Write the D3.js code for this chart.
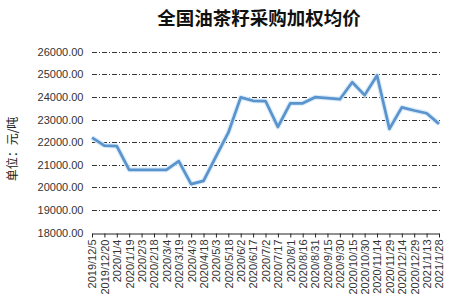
<!DOCTYPE html>
<html lang="zh">
<head>
<meta charset="UTF-8">
<title>全国油茶籽采购加权均价</title>
<script src="https://d3js.org/d3.v7.min.js"></script>
<style>
    body { margin: 0; background: #fff; }
    svg { display: block; }
    .tick-label { font-family: "Liberation Sans", Arial, sans-serif; font-size: 11px; fill: #333; }
</style>
</head>
<body>
<div id="chart"></div>
<script>
// 数据
const dates = ['2019/12/5', '2019/12/20', '2020/1/4', '2020/1/19', '2020/2/3', '2020/2/18', '2020/3/4',
    '2020/3/19', '2020/4/3', '2020/4/18', '2020/5/3', '2020/5/18', '2020/6/2', '2020/6/17', '2020/7/2',
    '2020/7/17', '2020/8/1', '2020/8/16', '2020/8/31', '2020/9/15', '2020/9/30', '2020/10/15', '2020/10/30',
    '2020/11/14', '2020/11/29', '2020/12/14', '2020/12/29', '2021/1/13', '2021/1/28'];
const prices = [22200, 21850, 21830, 20780, 20780, 20780, 20780,
    21160, 20150, 20290, 21360, 22420, 23980, 23830, 23820,
    22680, 23720, 23720, 23990, 23950, 23900, 24650, 24080,
    24950, 22590, 23540, 23400, 23280, 22810];
const yTicks = [18000, 19000, 20000, 21000, 22000, 23000, 24000, 25000, 26000];

const width = 454, height = 303;
const svg = d3.select('#chart').append('svg')
    .attr('width', width).attr('height', height);

const x = d3.scalePoint().domain(dates).range([92, 439]);
const y = d3.scaleLinear().domain([18000, 26000]).range([232.7, 51.7]);

// 标题
svg.append('text')
    .attr('x', 259).attr('y', 25)
    .attr('text-anchor', 'middle')
    .style('font-family', '"Noto Sans CJK SC", sans-serif')
    .style('font-weight', 'bold')
    .style('font-size', '18.5px')
    .attr('fill', '#111')
    .text('全国油茶籽采购加权均价');

// 网格线
svg.append('g').selectAll('line')
    .data(yTicks.filter(d => d > 18000))
    .join('line')
    .attr('x1', 92).attr('x2', 440)
    .attr('y1', d => Math.round(y(d)) + 0.5).attr('y2', d => Math.round(y(d)) + 0.5)
    .attr('stroke', '#333')
    .attr('stroke-width', 1)
    .attr('stroke-dasharray', '5,2,1,2');

// y 轴标签
svg.append('g').selectAll('text')
    .data(yTicks)
    .join('text')
    .attr('class', 'tick-label')
    .attr('x', 83.5)
    .attr('y', d => y(d) + 4)
    .attr('text-anchor', 'end')
    .text(d => d3.format('.2f')(d));

// x 轴
const xAxis = d3.axisBottom(x).tickSize(4).tickSizeOuter(0);
const gx = svg.append('g')
    .attr('transform', `translate(0,${Math.round(y(18000)) + 0.5})`)
    .call(xAxis);
gx.select('.domain').attr('stroke', '#222');
gx.selectAll('.tick line').attr('stroke', '#222');
gx.selectAll('.tick text')
    .attr('class', 'tick-label')
    .attr('transform', 'rotate(-90)')
    .attr('text-anchor', 'end')
    .attr('x', -6)
    .attr('y', 0)
    .attr('dy', '0.35em');

// 单位
svg.append('text')
    .attr('transform', 'translate(17,149) rotate(-90)')
    .attr('text-anchor', 'middle')
    .style('font-family', '"Noto Sans CJK SC", sans-serif')
    .style('font-size', '12px')
    .attr('fill', '#222')
    .text('单位：元/吨');

// 折线
const line = d3.line()
    .x((d, i) => x(dates[i]))
    .y(d => y(d));

svg.append('path')
    .datum(prices)
    .attr('fill', 'none')
    .attr('stroke', '#d9ecfa')
    .attr('stroke-width', 5)
    .attr('stroke-linejoin', 'round')
    .attr('d', line);

svg.append('path')
    .datum(prices)
    .attr('fill', 'none')
    .attr('stroke', '#5b93cc')
    .attr('stroke-width', 2.75)
    .attr('stroke-linejoin', 'round')
    .attr('d', line);
</script>
</body>
</html>
